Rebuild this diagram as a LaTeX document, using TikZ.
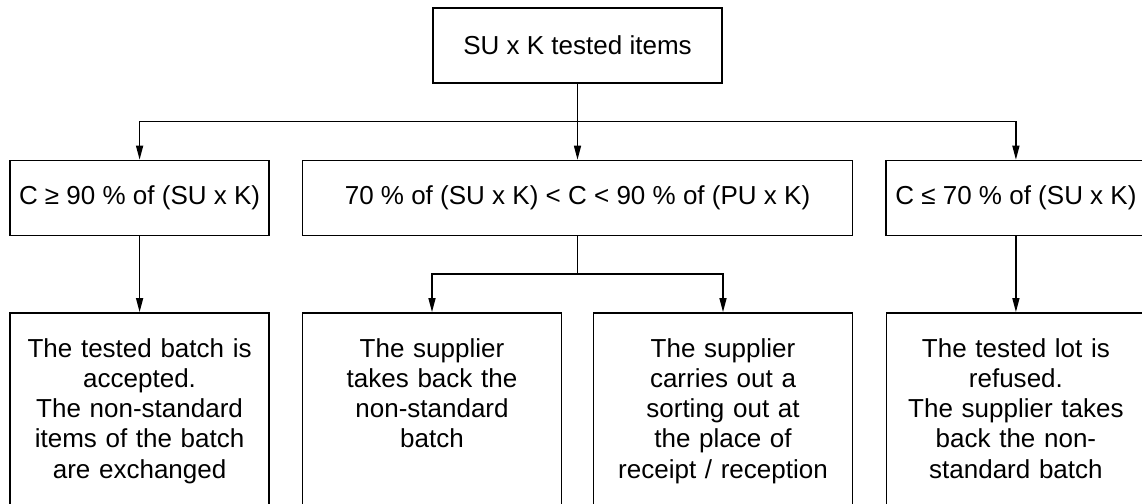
\documentclass[tikz,border=0pt]{standalone}
\usepackage{fontspec}
\setmainfont{Liberation Sans}
\usetikzlibrary{arrows.meta, positioning}

\begin{document}
\begin{tikzpicture}[
    box/.style={rectangle, draw=black, line width=0.8pt, minimum height=1.5cm, inner sep=0pt, text centered, font=\fontsize{14.8pt}{17.1pt}\selectfont},
    leaf/.style={rectangle, draw=black, line width=0.8pt, text width=5.18cm, align=center, inner xsep=0pt, inner ysep=0pt, text height=0.9cm, text depth=4.5cm, anchor=north, font=\fontsize{14.8pt}{17.1pt}\selectfont},
    arrow/.style={-{Triangle[length=2.8mm, width=1.4mm]}, line width=0.8pt}
]
\path[use as bounding box, clip] (0,0) rectangle (22.84,-10.08);

\node[box, minimum width=5.78cm] (items) at (11.55,-0.91) {SU x K tested items};

\node[box, minimum width=11cm, below=1.52cm of items] (mid) {70 \% of (SU x K) < C < 90 \% of (PU x K)};
\node[box, minimum width=5.18cm, left=0.64cm of mid] (high) {C ≥ 90 \% of (SU x K)};
\node[box, minimum width=5.2cm, right=0.64cm of mid] (low) {C ≤ 70 \% of (SU x K)};

\node[leaf, below=1.52cm of high] (accept) {The tested batch is\\accepted.\\The non-standard\\items of the batch\\are exchanged};
\node[leaf, below=1.52cm of mid.south west, anchor=north west] (back) {The supplier\\takes back the\\non-standard\\batch};
\node[leaf, below=1.52cm of mid.south east, anchor=north east] (sort) {The supplier\\carries out a\\sorting out at\\the place of\\receipt / reception};
\node[leaf, below=1.52cm of low] (refuse) {The tested lot is\\refused.\\The supplier takes\\back the non-\\standard batch};

\coordinate[below=0.76cm of items] (bus);
\coordinate[below=0.76cm of mid] (split);

\draw[arrow] (items) -- (mid);
\draw[arrow] (bus) -| (high);
\draw[arrow] (bus) -| (low);
\draw[arrow] (high) -- (accept);
\draw[arrow] (low) -- (refuse);
\draw[line width=0.8pt] (mid) -- (split);
\draw[arrow] (split) -| (back);
\draw[arrow] (split) -| (sort);
\end{tikzpicture}
\end{document}
